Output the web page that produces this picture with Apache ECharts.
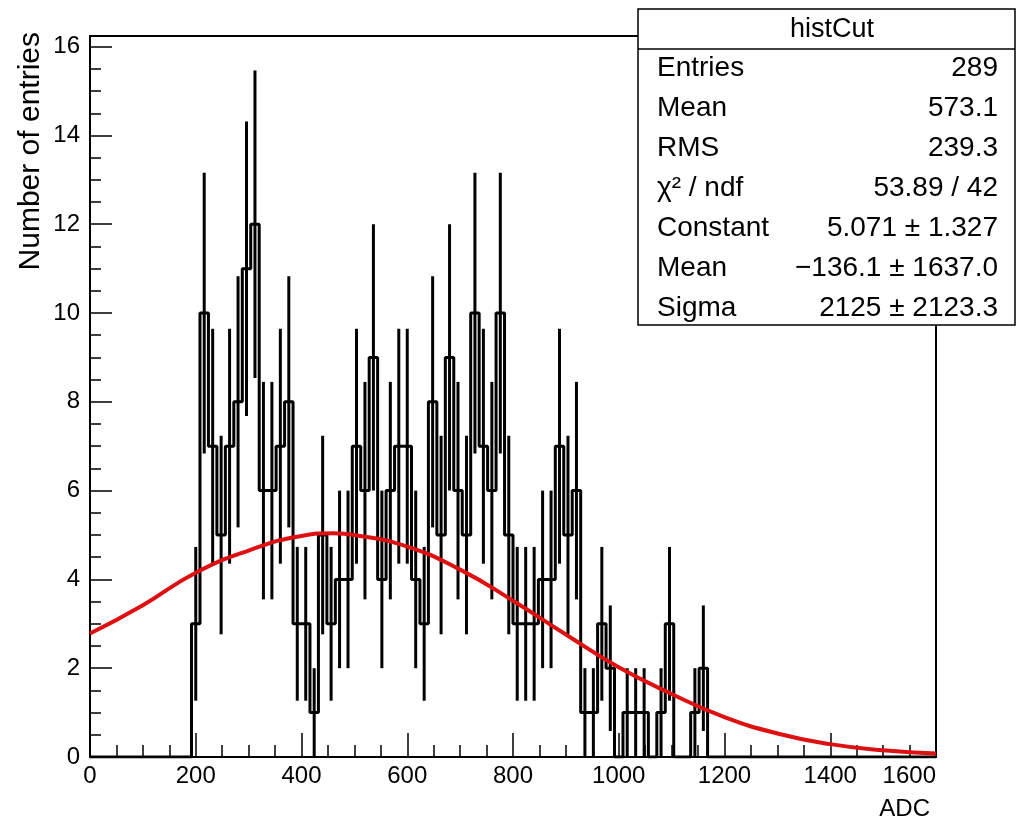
<!DOCTYPE html>
<html>
<head>
<meta charset="utf-8">
<title>histCut</title>
<script src="https://cdn.jsdelivr.net/npm/echarts@6/dist/echarts.min.js"></script>
<style>
  html, body { margin: 0; padding: 0; background: #fff; }
  #chart { width: 1019px; height: 826px; }
</style>
</head>
<body>
<div id="chart"></div>
<script>
// histogram: 16 ADC wide bins, the filled ones start at 192
const binWidth = 16;
const firstBinLow = 192;
const counts = [
  3, 10, 7, 5, 7, 8, 11, 12,
  6, 6, 7, 8, 3, 3, 1, 5,
  3, 4, 4, 7, 6, 9, 4, 6,
  7, 7, 4, 3, 8, 5, 9, 6,
  5, 10, 7, 6, 10, 5, 3, 3,
  3, 4, 4, 7, 5, 6, 1, 1,
  3, 2, 0, 1, 1, 1, 0, 1,
  3, 0, 0, 1, 2
];

// gaus fit curve
const fitX = [0, 100, 200, 300, 400, 460, 500, 600, 700, 800, 900, 1000, 1100, 1200, 1300, 1400, 1500, 1600];
const fitY = [2.78, 3.42, 4.15, 4.65, 4.98, 5.04, 5.0, 4.74, 4.22, 3.52, 2.76, 2.02, 1.42, 0.9, 0.53, 0.29, 0.15, 0.08];

const xTicks = [0, 1600, 200];
const yTicks = [0, 16.24, 2];

const statTitle = 'histCut';
const statNames = ['Entries', 'Mean', 'RMS', 'χ² / ndf', 'Constant', 'Mean', 'Sigma'];
const statValues = ['289', '573.1', '239.3', '53.89 / 42', '5.071 ± 1.327', '−136.1 ± 1637.0', '2125 ± 2123.3'];

const FONT = '"Liberation Sans", Arial, Helvetica, sans-serif';

// outline of the histogram as a step line
const stepData = [[xTicks[0], 0]];
counts.forEach((c, k) => stepData.push([firstBinLow + k * binWidth, c]));
stepData.push([firstBinLow + counts.length * binWidth, 0]);
stepData.push([xTicks[1], 0]);

// poisson error bars at bin centres
const errData = [];
counts.forEach((c, k) => {
  if (c > 0) {
    errData.push([firstBinLow + (k + 0.5) * binWidth, c - Math.sqrt(c), c + Math.sqrt(c)]);
  }
});

const fitData = fitX.map((x, i) => [x, fitY[i]]);

// stats box
const box = { x: 638, y: 9, w: 377, h: 316 };
const statGraphics = [
  { type: 'rect', z: 100, shape: { x: box.x, y: box.y, width: box.w, height: box.h },
    style: { fill: '#fff', stroke: '#000', lineWidth: 1.5 } },
  { type: 'line', z: 101, shape: { x1: box.x, y1: 49, x2: box.x + box.w, y2: 49 },
    style: { stroke: '#000', lineWidth: 1.5 } },
  { type: 'text', z: 101, x: 832, y: 30,
    style: { text: statTitle, font: '27px ' + FONT, fill: '#000',
             align: 'center', verticalAlign: 'middle', textAlign: 'center', textVerticalAlign: 'middle' } }
];
statNames.forEach((name, k) => {
  const yy = 68 + k * 40;
  statGraphics.push({ type: 'text', z: 101, x: 657, y: yy,
    style: { text: name, font: '28px ' + FONT, fill: '#000',
             align: 'left', verticalAlign: 'middle', textAlign: 'left', textVerticalAlign: 'middle' } });
  statGraphics.push({ type: 'text', z: 101, x: 998, y: yy,
    style: { text: statValues[k], font: '28px ' + FONT, fill: '#000',
             align: 'right', verticalAlign: 'middle', textAlign: 'right', textVerticalAlign: 'middle' } });
});

const chart = echarts.init(document.getElementById('chart'), null, { renderer: 'canvas' });

chart.setOption({
  animation: false,
  backgroundColor: '#fff',
  grid: {
    left: 90, right: 83, top: 36, bottom: 69,
    show: true, borderColor: '#000', borderWidth: 2
  },
  xAxis: {
    type: 'value',
    min: xTicks[0], max: xTicks[1], interval: xTicks[2],
    name: 'ADC',
    nameLocation: 'end',
    nameGap: -6,
    nameTextStyle: { color: '#000', fontSize: 24, fontFamily: FONT, align: 'right', verticalAlign: 'top', padding: [40, 0, 0, 0] },
    axisLine: { onZero: false, lineStyle: { color: '#000', width: 2 } },
    axisTick: { inside: true, length: 24, lineStyle: { color: '#000', width: 1.5 } },
    minorTick: { show: true, splitNumber: 4, length: 12, lineStyle: { color: '#000', width: 1.5 } },
    axisLabel: { color: '#000', fontSize: 24, fontFamily: FONT, margin: 7, alignMaxLabel: 'right',
                 formatter: v => String(v) },
    splitLine: { show: false }
  },
  yAxis: {
    type: 'value',
    min: yTicks[0], max: yTicks[1], interval: yTicks[2],
    axisLine: { show: true, lineStyle: { color: '#000', width: 2 } },
    axisTick: { inside: true, length: 22, lineStyle: { color: '#000', width: 1.5 } },
    minorTick: { show: true, splitNumber: 4, length: 11, lineStyle: { color: '#000', width: 1.5 } },
    axisLabel: { color: '#000', fontSize: 24, fontFamily: FONT, margin: 10, showMaxLabel: false,
                 formatter: v => String(v) },
    splitLine: { show: false }
  },
  graphic: [
    { type: 'text', x: 31, y: 32, rotation: Math.PI / 2,
      style: { text: 'Number of entries', font: '30px ' + FONT, fill: '#000',
               align: 'right', verticalAlign: 'middle', textAlign: 'right', textVerticalAlign: 'middle' } }
  ].concat(statGraphics),
  series: [
    {
      name: 'histCut',
      type: 'line',
      step: 'end',
      data: stepData,
      showSymbol: false,
      lineStyle: { color: '#000', width: 3 },
      z: 2
    },
    {
      name: 'errors',
      type: 'custom',
      data: errData,
      encode: { x: 0, y: [1, 2] },
      renderItem: (params, api) => {
        const lo = api.coord([api.value(0), api.value(1)]);
        const hi = api.coord([api.value(0), api.value(2)]);
        return {
          type: 'line',
          shape: { x1: lo[0], y1: lo[1], x2: hi[0], y2: hi[1] },
          style: { stroke: '#000', lineWidth: 3 }
        };
      },
      z: 2
    },
    {
      name: 'gaus',
      type: 'line',
      data: fitData,
      smooth: 0.5,
      showSymbol: false,
      lineStyle: { color: '#dd1111', width: 4 },
      z: 3
    }
  ]
});
</script>
</body>
</html>
